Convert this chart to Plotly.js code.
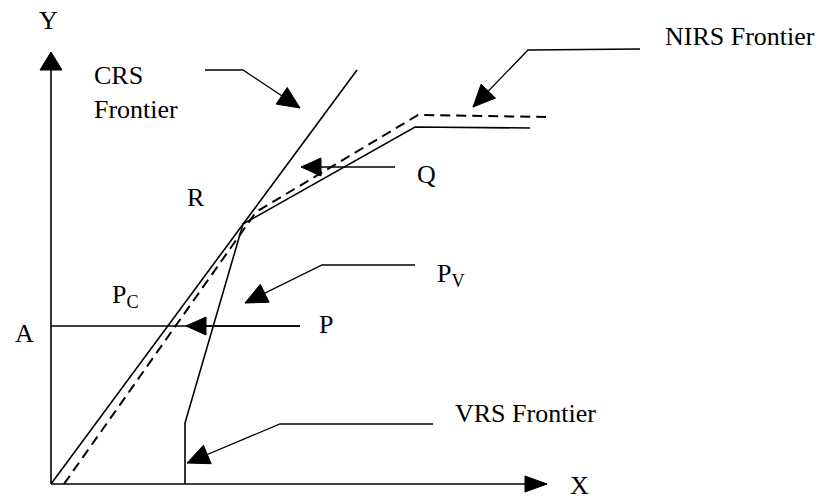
<!DOCTYPE html>
<html>
<head>
<meta charset="utf-8">
<script src="https://cdn.plot.ly/plotly-3.0.1.min.js"></script>
<style>html,body{margin:0;padding:0;background:#fff;}#chart{width:825px;height:502px;}</style>
</head>
<body>
<div id="chart"></div>
<script>
// Diagram coordinates: origin at the axes' corner, X to the right, Y upward.
var axisY_x = [0, 0];          var axisY_y = [0, 432];
var axisX_x = [0, 496];        var axisX_y = [0, 0];
var crs_x = [0, 306];          var crs_y = [0, 414];
var vrs_x = [134, 134, 192, 364, 479];
var vrs_y = [0, 61, 260, 357, 356];
var nirs_x = [13, 205, 367, 495];
var nirs_y = [0, 272, 369, 367];
var lineA_x = [0, 249];        var lineA_y = [158, 158];

// Pointer arrows (last point = arrow tip)
var ptrCRS_x = [154, 192, 249];   var ptrCRS_y = [414, 414, 376];
var ptrNIRS_x = [589, 477, 422];  var ptrNIRS_y = [435, 434, 377];
var ptrQ_x = [344, 250];          var ptrQ_y = [317, 317];
var ptrPV_x = [364, 271, 194];    var ptrPV_y = [219, 219, 181];
var ptrP_x = [249, 135];          var ptrP_y = [158, 158];
var ptrVRS_x = [382, 229, 136];   var ptrVRS_y = [60, 60, 21];

// Labels
var labelText = ["Y", "X", "CRS<br>Frontier", "NIRS Frontier", "R", "Q",
                 "P<sub>C</sub>", "P<sub>V</sub>", "P", "A", "VRS Frontier"];
var labelX = [-14, 517, 41, 612, 134, 364, 59, 384, 266, -38, 402];
var labelY = [464, -18, 392, 448, 287, 310, 188, 209, 160, 151, 71];
var labelAnchor = ["middle", "bottom", "middle", "middle", "middle", "middle",
                   "middle", "middle", "middle", "middle", "middle"];

var traces = [];
function line(xs, ys, dash, w) {
  traces.push({x: xs, y: ys, mode: 'lines', type: 'scatter', hoverinfo: 'skip',
    line: {color: '#000', width: w || 1.5, dash: dash || 'solid'}});
}
function head(xs, ys, len, half) {
  var n = xs.length;
  var tx = xs[n-1], ty = ys[n-1], fx = xs[n-2], fy = ys[n-2];
  var dx = tx - fx, dy = ty - fy, L = Math.sqrt(dx*dx + dy*dy);
  var ux = dx / L, uy = dy / L;
  var bx = tx - ux * len, by = ty - uy * len;
  traces.push({x: [tx, bx - uy * half, bx + uy * half, tx],
    y: [ty, by + ux * half, by - ux * half, ty],
    mode: 'lines', type: 'scatter', fill: 'toself', fillcolor: '#000',
    hoverinfo: 'skip', line: {color: '#000', width: 1}});
}

line(axisY_x, axisY_y, 'solid', 1.6); head(axisY_x, axisY_y, 18, 11);
line(axisX_x, axisX_y, 'solid', 1.6); head(axisX_x, axisX_y, 22, 8);
line(crs_x, crs_y, 'solid', 1.6);
line(vrs_x, vrs_y, 'solid', 1.6);
line(nirs_x, nirs_y, '10px,6px', 2);
line(lineA_x, lineA_y, 'solid', 1.3);
[[ptrCRS_x, ptrCRS_y, 22, 10], [ptrNIRS_x, ptrNIRS_y, 22, 10], [ptrQ_x, ptrQ_y, 20, 9],
 [ptrPV_x, ptrPV_y, 22, 10], [ptrP_x, ptrP_y, 20, 9], [ptrVRS_x, ptrVRS_y, 22, 10]].forEach(function (p) {
  line(p[0], p[1], 'solid', 1.3);
  head(p[0], p[1], p[2], p[3]);
});

var annotations = labelText.map(function (t, i) {
  return {x: labelX[i], y: labelY[i], text: t, showarrow: false, xanchor: 'left', yanchor: labelAnchor[i],
    align: 'left', font: {family: 'Liberation Serif, Times New Roman, serif', size: 26, color: '#000'}};
});

var layout = {
  width: 825, height: 502,
  margin: {l: 0, r: 0, t: 0, b: 0},
  paper_bgcolor: '#fff', plot_bgcolor: '#fff',
  showlegend: false,
  xaxis: {range: [-51, 774], visible: false, fixedrange: true},
  yaxis: {range: [-18, 484], visible: false, fixedrange: true},
  annotations: annotations
};
Plotly.newPlot('chart', traces, layout, {staticPlot: true, displayModeBar: false});
</script>
</body>
</html>
